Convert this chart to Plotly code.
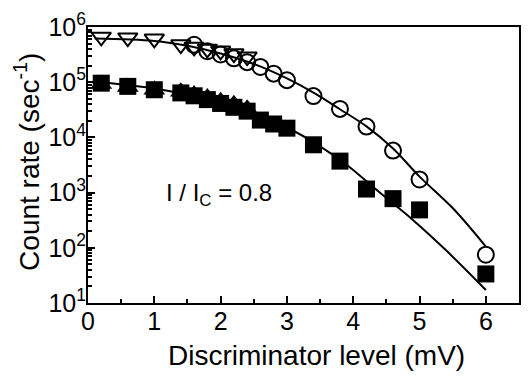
import plotly.graph_objects as go

# Upper data set (open symbols)
tri_dn_x = [0.2, 0.6, 1.0, 1.4, 1.6, 1.8, 2.0, 2.2, 2.4]
tri_dn_y = [6.6e5, 6.4e5, 6.1e5, 4.8e5, 4.35e5, 4.0e5, 3.7e5, 3.3e5, 2.9e5]

circ_x = [1.6, 1.8, 2.0, 2.2, 2.4, 2.6, 2.8, 3.0, 3.4, 3.8, 4.2, 4.6, 5.0, 6.0]
circ_y = [4.76e5, 3.64e5, 3.18e5, 2.71e5, 2.31e5, 1.89e5, 1.43e5, 1.09e5,
          5.6e4, 3.28e4, 1.57e4, 5.77e3, 1.73e3, 75]

# Lower data set (filled symbols)
sq_x = [0.2, 0.6, 1.0, 1.4, 1.6, 1.8, 2.0, 2.2, 2.4, 2.6, 2.8, 3.0, 3.4, 3.8, 4.2, 4.6, 5.0, 6.0]
sq_y = [9.6e4, 8.4e4, 7.3e4, 6.4e4, 5.67e4, 4.84e4, 4.12e4, 3.51e4, 2.99e4, 2.06e4,
        1.75e4, 1.47e4, 7.35e3, 3.72e3, 1.16e3, 777, 486, 33.6]

tri_up_x = [0.2, 0.6, 1.0, 1.4, 1.6, 1.8, 2.0, 2.2, 2.4]
tri_up_y = [9.3e4, 8.2e4, 7.3e4, 6.7e4, 6.0e4, 5.3e4, 4.5e4, 4.0e4, 3.3e4]

# Fit curves
fit_up_x = [0.1, 1.0, 1.5, 2.0, 2.5, 3.0, 3.4, 3.8, 4.2, 4.6, 5.0, 5.5, 6.0]
fit_up_y = [6.17e5, 5.58e5, 4.57e5, 3.31e5, 2.14e5, 1.17e5, 6.46e4, 3.24e4,
            1.58e4, 6.3e3, 1.95e3, 525, 105]

fit_lo_x = [0.1, 0.6, 1.0, 1.5, 2.0, 2.5, 3.0, 3.5, 3.9, 4.4, 4.9, 5.4, 6.0]
fit_lo_y = [1.04e5, 8.83e4, 7.67e4, 5.92e4, 4.12e4, 2.63e4, 1.51e4, 6.9e3,
            3.2e3, 1.0e3, 320, 90, 17.2]

x_tickvals = [0, 1, 2, 3, 4, 5, 6]
x_ticktext = ["0", "1", "2", "3", "4", "5", "6"]
y_tickvals = [1e1, 1e2, 1e3, 1e4, 1e5, 1e6]
y_ticktext = ["10<sup>1</sup>", "10<sup>2</sup>", "10<sup>3</sup>",
              "10<sup>4</sup>", "10<sup>5</sup>", "10<sup>6</sup>"]

FONT = "Arial, Liberation Sans, sans-serif"
MLW = 2

fig = go.Figure()
fig.add_trace(go.Scatter(x=fit_up_x, y=fit_up_y, mode="lines",
                         line=dict(color="black", width=2, shape="spline"),
                         showlegend=False, hoverinfo="skip"))
fig.add_trace(go.Scatter(x=fit_lo_x, y=fit_lo_y, mode="lines",
                         line=dict(color="black", width=2, shape="spline"),
                         showlegend=False, hoverinfo="skip"))
fig.add_trace(go.Scatter(x=tri_up_x, y=tri_up_y, mode="markers",
                         marker=dict(symbol="triangle-up", size=19, color="black",
                                     line=dict(color="black", width=0)),
                         showlegend=False))
fig.add_trace(go.Scatter(x=sq_x, y=sq_y, mode="markers",
                         marker=dict(symbol="square", size=17, color="black",
                                     line=dict(color="black", width=0)),
                         showlegend=False))
fig.add_trace(go.Scatter(x=circ_x, y=circ_y, mode="markers",
                         marker=dict(symbol="circle-open", size=16, color="black",
                                     line=dict(color="black", width=MLW)),
                         showlegend=False))
fig.add_trace(go.Scatter(x=tri_dn_x, y=tri_dn_y, mode="markers",
                         marker=dict(symbol="triangle-down-open", size=17, color="black",
                                     line=dict(color="black", width=MLW)),
                         showlegend=False))

fig.add_annotation(x=1.98, y=2.97, xref="x", yref="y", yanchor="middle",
                   text="I / I<sub>C</sub> = 0.8", showarrow=False,
                   font=dict(family=FONT, size=24, color="black"))

# axis titles
fig.add_annotation(x=0.531, y=-0.19, xref="paper", yref="paper",
                   xanchor="center", yanchor="middle",
                   text="Discriminator level (mV)", showarrow=False,
                   font=dict(family=FONT, size=28, color="black"))
fig.add_annotation(x=-0.14, y=0.51, xref="paper", yref="paper",
                   xanchor="center", yanchor="middle", textangle=-90,
                   text="Count rate (sec<sup>-1</sup>)", showarrow=False,
                   font=dict(family=FONT, size=28, color="black"))

fig.update_layout(
    width=530, height=381,
    margin=dict(l=88, r=9, t=16, b=78),
    paper_bgcolor="white", plot_bgcolor="white",
    font=dict(family=FONT, color="black"),
)
fig.update_xaxes(
    range=[0, 6.5], showgrid=False, zeroline=False,
    showline=True, linecolor="black", linewidth=2, mirror=True,
    ticks="inside", ticklen=7, tickwidth=1.5, tickcolor="black",
    tickvals=x_tickvals, ticktext=x_ticktext,
    tickfont=dict(family=FONT, size=25, color="black"),
    ticklabelstandoff=-5,
    minor=dict(ticks="inside", ticklen=4, tickwidth=1.5, tickcolor="black",
               dtick=0.5, showgrid=False),
)
fig.update_yaxes(
    type="log", range=[1, 6], showgrid=False, zeroline=False,
    showline=True, linecolor="black", linewidth=2, mirror=True,
    ticks="inside", ticklen=7, tickwidth=1.5, tickcolor="black",
    tickvals=y_tickvals, ticktext=y_ticktext,
    tickfont=dict(family=FONT, size=25, color="black"),
    ticklabeloverflow="allow", ticklabelstandoff=-5,
    minor=dict(ticks="inside", ticklen=4, tickwidth=1.5, tickcolor="black",
               dtick="D1", showgrid=False),
)

fig.write_html("out.html")
